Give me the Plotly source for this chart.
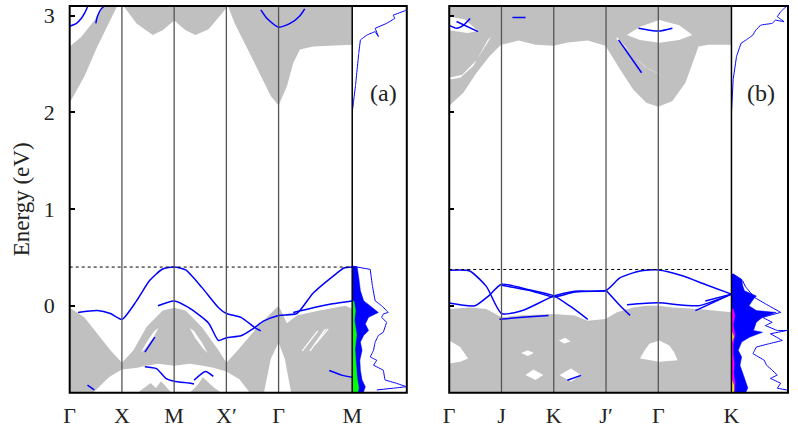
import plotly.graph_objects as go

# ---------------- axis / label data ----------------
E_MIN, E_MAX = -0.9, 3.1
ticks_a = [0, 1, 2, 3, 4, 5.41]
labels_a = ['Γ', 'X', 'M', 'X′', 'Γ', 'M']
ticks_b = [0, 1, 2, 3, 4, 5.40]
labels_b = ['Γ', 'J', 'K', 'J′', 'Γ', 'K']
e_ticks = [0, 1, 2, 3]
fermi_a = 0.40
fermi_b = 0.375

# ---------------- panel (a): projected bulk bands (gray) ----------------
a_cb1_k = [0, 0.28, 0.53, 0.78, 0.91, 0.66, 0.47, 0.22, 0]
a_cb1_E = [2.10, 2.37, 2.68, 2.95, 3.10, 3.10, 2.95, 2.78, 2.68]
a_cb2_k = [1.03, 1.28, 1.59, 1.78, 2.0, 2.22, 2.41, 2.66, 2.91, 3.03]
a_cb2_E = [3.10, 2.92, 2.80, 2.85, 2.95, 2.85, 2.80, 2.86, 3.02, 3.10]
a_cb3_k = [3.03, 3.16, 3.41, 3.66, 3.85, 4.0, 4.16, 4.28, 4.41, 4.66, 5.41, 5.41]
a_cb3_E = [3.10, 2.92, 2.65, 2.37, 2.17, 2.07, 2.27, 2.51, 2.65, 2.68, 2.70, 3.10]

a_vb_k = [0, 0.28, 0.53, 0.78, 1.0, 1.22, 1.47, 1.78, 2.0, 2.22, 2.53, 2.85, 3.0,
          3.22, 3.66, 4.0, 4.16, 4.35, 4.78, 5.28, 5.41, 5.41, 0]
a_vb_E = [-0.02, -0.12, -0.29, -0.46, -0.59, -0.46, -0.22, -0.05, -0.02, -0.05, -0.22,
          -0.46, -0.59, -0.46, -0.18, 0.0, -0.18, -0.10, -0.05, 0.0, -0.03, -0.9, -0.9]

# white gaps inside panel (a) valence region
a_gap1_k = [0.45, 0.75, 1.0, 1.3, 1.45, 1.7, 2.0, 2.3, 2.55, 2.75, 3.0, 3.25, 3.45]
a_gap1_E = [-0.9, -0.74, -0.66, -0.64, -0.62, -0.60, -0.62, -0.60, -0.62, -0.64, -0.68, -0.76, -0.9]
a_gap2_k = [1.36, 1.47, 1.62, 1.70, 1.60, 1.45]
a_gap2_E = [-0.49, -0.38, -0.26, -0.23, -0.33, -0.44]
a_gap3_k = [2.64, 2.53, 2.38, 2.30, 2.40, 2.55]
a_gap3_E = [-0.49, -0.38, -0.26, -0.23, -0.33, -0.44]
a_gap4_k = [3.72, 3.85, 4.0, 4.12, 4.24]
a_gap4_E = [-0.9, -0.55, -0.38, -0.55, -0.9]
# small gray bumps at the bottom of the gaps
a_bump1_k = [1.3, 1.45, 1.55, 1.65, 1.75, 1.85, 1.95]
a_bump1_E = [-0.9, -0.84, -0.80, -0.85, -0.78, -0.84, -0.9]
a_bump2_k = [2.3, 2.45, 2.55, 2.65, 2.75, 2.9]
a_bump2_E = [-0.9, -0.82, -0.74, -0.79, -0.84, -0.9]
# thin white streaks right of Gamma
a_streaks = [([4.45, 4.75], [-0.47, -0.26]), ([4.6, 4.9], [-0.47, -0.24]), ([4.7, 4.95], [-0.40, -0.24])]

# ---------------- panel (a): surface states (blue) ----------------
a_s1_k = [0.16, 0.53, 0.78, 1.0, 1.28, 1.53, 1.78, 2.0, 2.22, 2.53, 2.85, 3.0, 3.28, 3.53, 3.66]
a_s1_E = [-0.07, -0.05, -0.08, -0.14, 0.05, 0.26, 0.38, 0.40, 0.37, 0.19, -0.02, -0.08, -0.12, -0.22, -0.26]
a_s2_k = [1.69, 2.0, 2.28, 2.66, 2.85, 3.0, 3.28, 3.53, 3.71, 4.0, 4.35, 4.66, 5.1, 5.25, 5.41]
a_s2_E = [0.0, 0.05, -0.02, -0.18, -0.36, -0.33, -0.31, -0.23, -0.16, -0.10, -0.08, 0.13, 0.33, 0.39, 0.40]
a_s3_k = [4.28, 4.66, 5.03, 5.41]
a_s3_E = [-0.07, -0.02, 0.02, 0.05]
a_s4_k = [1.44, 1.66, 1.84, 2.0, 2.28, 2.38]
a_s4_E = [-0.63, -0.65, -0.75, -0.78, -0.80, -0.81]
a_s5_k = [2.38, 2.6, 2.75]
a_s5_E = [-0.77, -0.68, -0.73]
a_s6_k = [1.44, 1.63]
a_s6_E = [-0.48, -0.325]
a_s7_k = [4.97, 5.22, 5.41]
a_s7_E = [-0.67, -0.72, -0.74]
a_s8_k = [0.34, 0.47]
a_s8_E = [-0.82, -0.87]
a_c1_k = [0.0, 0.13, 0.22, 0.28, 0.34]
a_c1_E = [2.89, 2.92, 2.97, 3.02, 3.09]
a_c2_k = [0.5, 0.53, 0.59, 0.66]
a_c2_E = [2.92, 2.99, 3.06, 3.10]
a_c3_k = [3.66, 3.78, 4.0, 4.22, 4.41, 4.5]
a_c3_E = [3.06, 2.97, 2.88, 2.92, 3.0, 3.07]

# ---------------- panel (a): DOS ----------------
a_dos_fill_E = [0.41, 0.40, 0.29, 0.154, 0.051, -0.017, -0.069, -0.12, -0.188, -0.256, -0.307,
                -0.376, -0.461, -0.564, -0.666, -0.768, -0.837, -0.888, -0.9]
a_dos_fill_d = [0.0, 0.09, 0.12, 0.15, 0.21, 0.36, 0.48, 0.30, 0.24, 0.30, 0.21,
                0.15, 0.18, 0.14, 0.15, 0.18, 0.24, 0.21, 0.21]
a_dos_green_E = [0.05, -0.05, -0.15, -0.3, -0.45, -0.6, -0.75, -0.85, -0.9]
a_dos_green_d = [0.03, 0.06, 0.04, 0.08, 0.05, 0.07, 0.09, 0.12, 0.10]
a_dos_line_E = [0.41, 0.376, 0.205, 0.051, 0.0, -0.069, -0.085, -0.12, -0.171, -0.274, -0.307,
                -0.376, -0.461, -0.53, -0.564, -0.615, -0.666, -0.768, -0.802, -0.837, -0.853, -0.871]
a_dos_line_d = [0.0, 0.33, 0.37, 0.42, 0.54, 0.66, 0.57, 0.54, 0.63, 0.57, 0.48,
                0.42, 0.39, 0.33, 0.45, 0.39, 0.57, 0.60, 0.81, 0.99, 0.75, 0.45]
a_dos_up_E = [1.0, 2.0, 2.275, 2.613, 2.749, 2.80, 2.835, 2.784, 2.869, 2.92, 2.971, 3.005, 3.056, 3.1]
a_dos_up_d = [0.0, 0.0, 0.06, 0.12, 0.15, 0.27, 0.42, 0.48, 0.42, 0.63, 0.78, 0.75, 0.99, 1.0]

# ---------------- panel (b): projected bulk bands (gray) ----------------
b_cb_k = [0, 0.27, 0.52, 0.77, 0.99, 1.33, 1.65, 2.0, 2.27, 2.65, 2.99, 3.27, 3.52, 3.77,
          4.0, 4.27, 4.52, 4.77, 4.96, 5.40, 5.40, 0]
b_cb_E = [2.067, 2.203, 2.408, 2.579, 2.698, 2.743, 2.698, 2.688, 2.722, 2.743, 2.688, 2.442,
          2.237, 2.10, 2.059, 2.118, 2.305, 2.681, 2.698, 2.698, 3.1, 3.1]
b_cgap1_k = [0, 0.3, 0.55, 0.35, 0]
b_cgap1_E = [2.99, 2.96, 2.84, 2.82, 2.85]
b_cgap2_k = [0, 0.25, 0.52, 0.80, 0.74, 0.46, 0.21, 0]
b_cgap2_E = [2.357, 2.39, 2.54, 2.78, 2.75, 2.48, 2.357, 2.34]
b_cgap3_k = [3.40, 3.65, 4.02, 4.40, 4.65, 4.40, 4.02, 3.65]
b_cgap3_E = [2.80, 2.886, 2.954, 2.90, 2.80, 2.749, 2.72, 2.749]
b_cgap4_k = [3.21, 3.5, 3.8, 4.15, 4.1, 3.75, 3.45, 3.2]
b_cgap4_E = [2.78, 2.6, 2.45, 2.36, 2.38, 2.47, 2.63, 2.76]

b_vb_k = [0, 0.39, 0.71, 1.0, 1.33, 1.65, 2.0, 2.40, 2.65, 2.99, 3.21, 3.52, 3.77, 4.0,
          4.27, 4.77, 5.40, 5.40, 0]
b_vb_E = [-0.034, -0.017, -0.034, -0.12, -0.10, -0.092, -0.085, -0.10, -0.154, -0.136,
          -0.068, -0.017, 0.0, 0.0, -0.017, -0.034, -0.068, -0.9, -0.9]
b_vgap1_k = [0, 0.21, 0.36, 0.21, 0]
b_vgap1_E = [-0.359, -0.427, -0.546, -0.58, -0.597]
b_vgap2_k = [3.65, 3.74, 3.83, 4.02, 4.21, 4.30, 4.37, 4.02]
b_vgap2_E = [-0.546, -0.461, -0.392, -0.359, -0.41, -0.478, -0.564, -0.58]
b_vgap3_k = [1.46, 1.61, 1.80, 1.65]
b_vgap3_E = [-0.717, -0.659, -0.717, -0.768]
b_vgap4_k = [2.11, 2.33, 2.52, 2.33]
b_vgap4_E = [-0.717, -0.649, -0.717, -0.786]
b_vgap5_k = [1.38, 1.5, 1.62, 1.5]
b_vgap5_E = [-0.49, -0.46, -0.49, -0.52]
b_vgap6_k = [2.1, 2.22, 2.32, 2.2]
b_vgap6_E = [-0.36, -0.33, -0.37, -0.39]

# ---------------- panel (b): surface states (blue) ----------------
b_s1_k = [0, 0.39, 0.71, 1.0, 1.4, 2.0, 2.4, 3.0, 3.27, 3.65, 4.0, 4.46, 4.9, 5.40]
b_s1_E = [0.366, 0.359, 0.20, -0.08, -0.05, 0.10, 0.15, 0.16, 0.29, 0.36, 0.37, 0.31, 0.22, 0.12]
b_s2_k = [0, 0.49, 0.75, 1.0, 1.52, 2.0, 2.3, 2.65]
b_s2_E = [0.028, 0.0, 0.10, 0.222, 0.165, 0.102, 0.0, -0.14]
b_s3_k = [1.0, 1.52, 2.0, 2.4, 3.0]
b_s3_E = [0.212, 0.16, 0.092, 0.142, 0.152]
b_s4_k = [0.96, 1.4, 1.9]
b_s4_E = [-0.14, -0.12, -0.10]
b_s8_k = [3.0, 3.27, 3.46]
b_s8_E = [0.16, 0.0, -0.10]
b_s9_k = [3.4, 4.0, 4.77, 5.40]
b_s9_E = [0.01, 0.03, 0.0, 0.12]
b_s10_k = [4.71, 5.40]
b_s10_E = [-0.05, 0.12]
b_s11_k = [4.9, 5.40]
b_s11_E = [0.05, 0.12]
b_s12_k = [2.26, 2.52]
b_s12_E = [-0.77, -0.72]
b_c1_k = [0, 0.14, 0.27, 0.4]
b_c1_E = [2.90, 2.87, 2.90, 2.97]
b_c2_k = [0.14, 0.55]
b_c2_E = [2.94, 2.835]
b_c3_k = [3.62, 4.0, 4.27]
b_c3_E = [2.87, 2.84, 2.87]
b_c4_k = [3.24, 3.68]
b_c4_E = [2.75, 2.41]
b_c5_k = [1.21, 1.46]
b_c5_E = [2.98, 2.98]

# ---------------- panel (b): DOS ----------------
b_dos_fill_E = [0.33, 0.30, 0.274, 0.205, 0.154, 0.10, 0.07, 0.0, -0.05, -0.069, -0.12, -0.17,
                -0.256, -0.274, -0.325, -0.376, -0.461, -0.53, -0.615, -0.697, -0.786, -0.85, -0.888, -0.9]
b_dos_fill_d = [0.03, 0.10, 0.18, 0.20, 0.23, 0.44, 0.39, 0.31, 0.44, 0.79, 0.55, 0.44,
                0.39, 0.55, 0.32, 0.18, 0.12, 0.18, 0.15, 0.20, 0.26, 0.29, 0.26, 0.26]
b_dos_mag_E = [-0.03, -0.1, -0.2, -0.3, -0.4, -0.5, -0.6, -0.7, -0.8, -0.9]
b_dos_mag_d = [0.03, 0.06, 0.03, 0.06, 0.03, 0.03, 0.05, 0.04, 0.06, 0.05]
b_dos_yel_E = [-0.26, -0.32, -0.38, -0.76, -0.82, -0.9]
b_dos_yel_d = [0.0, 0.04, 0.0, 0.0, 0.04, 0.04]
b_dos_line_E = [0.33, 0.29, 0.256, 0.195, 0.085, 0.017, -0.069, -0.12, -0.171, -0.205, -0.256, -0.256,
                -0.29, -0.359, -0.392, -0.427, -0.495, -0.564, -0.615, -0.666, -0.717, -0.751,
                -0.802, -0.853, -0.871]
b_dos_line_d = [0.0, 0.12, 0.20, 0.25, 0.41, 0.61, 0.87, 0.55, 0.72, 0.60, 0.81, 0.98,
                0.69, 0.90, 0.67, 0.44, 0.38, 0.58, 0.62, 0.72, 0.81, 0.69,
                0.87, 0.81, 0.98]
b_dos_up_E = [1.0, 2.0, 2.339, 2.579, 2.715, 2.749, 2.80, 2.851, 2.903, 2.92, 2.954, 2.937,
              2.989, 3.04, 3.074, 3.094]
b_dos_up_d = [0.0, 0.0, 0.03, 0.09, 0.17, 0.26, 0.38, 0.43, 0.52, 0.72, 0.78, 0.93,
              0.81, 0.87, 0.93, 0.97]

# ---------------- figure ----------------
GRAY = '#c0c0c0'
BLUE = '#0000ff'
W, H = 798, 431
fig = go.Figure()


def poly(k, e, color, xa, ya):
    fig.add_trace(go.Scatter(x=k, y=e, mode='lines', fill='toself', fillcolor=color,
                             line=dict(width=0, color=color), xaxis=xa, yaxis=ya,
                             hoverinfo='skip', showlegend=False))


def curve(k, e, xa, ya, color=BLUE, width=1.5, smooth=0.6):
    fig.add_trace(go.Scatter(x=k, y=e, mode='lines',
                             line=dict(color=color, width=width, shape='spline', smoothing=smooth),
                             xaxis=xa, yaxis=ya, hoverinfo='skip', showlegend=False))


def dos_fill(d, e, color, xa, ya):
    fig.add_trace(go.Scatter(x=d, y=e, mode='lines', fill='tozerox', fillcolor=color,
                             line=dict(width=0.5, color=color), xaxis=xa, yaxis=ya,
                             hoverinfo='skip', showlegend=False))


# panel (a)
for k, e in [(a_cb1_k, a_cb1_E), (a_cb2_k, a_cb2_E), (a_cb3_k, a_cb3_E), (a_vb_k, a_vb_E)]:
    poly(k, e, GRAY, 'x', 'y')
for k, e in [(a_gap1_k, a_gap1_E), (a_gap2_k, a_gap2_E), (a_gap3_k, a_gap3_E), (a_gap4_k, a_gap4_E)]:
    poly(k, e, 'white', 'x', 'y')
for k, e in [(a_bump1_k, a_bump1_E), (a_bump2_k, a_bump2_E)]:
    poly(k, e, GRAY, 'x', 'y')
for k, e in a_streaks:
    fig.add_trace(go.Scatter(x=k, y=e, mode='lines', line=dict(color='white', width=1.2),
                             xaxis='x', yaxis='y', hoverinfo='skip', showlegend=False))
for k, e in [(a_s1_k, a_s1_E), (a_s2_k, a_s2_E), (a_s3_k, a_s3_E), (a_s4_k, a_s4_E),
             (a_s5_k, a_s5_E), (a_s6_k, a_s6_E), (a_s7_k, a_s7_E), (a_s8_k, a_s8_E),
             (a_c1_k, a_c1_E), (a_c2_k, a_c2_E), (a_c3_k, a_c3_E)]:
    curve(k, e, 'x', 'y')
fig.add_trace(go.Scatter(x=[ticks_a[0], ticks_a[-1]], y=[fermi_a, fermi_a], mode='lines',
                         line=dict(color='black', width=1, dash='dot'), xaxis='x', yaxis='y',
                         hoverinfo='skip', showlegend=False))
dos_fill(a_dos_fill_d, a_dos_fill_E, BLUE, 'x2', 'y')
dos_fill(a_dos_green_d, a_dos_green_E, '#00ff00', 'x2', 'y')
curve(a_dos_line_d, a_dos_line_E, 'x2', 'y', width=1, smooth=0)
curve(a_dos_up_d, a_dos_up_E, 'x2', 'y', width=1, smooth=0)

# panel (b)
poly(b_cb_k, b_cb_E, GRAY, 'x3', 'y2')
poly(b_vb_k, b_vb_E, GRAY, 'x3', 'y2')
for k, e in [(b_cgap1_k, b_cgap1_E), (b_cgap2_k, b_cgap2_E), (b_cgap3_k, b_cgap3_E),
             (b_cgap4_k, b_cgap4_E), (b_vgap1_k, b_vgap1_E), (b_vgap2_k, b_vgap2_E),
             (b_vgap3_k, b_vgap3_E), (b_vgap4_k, b_vgap4_E), (b_vgap5_k, b_vgap5_E),
             (b_vgap6_k, b_vgap6_E)]:
    poly(k, e, 'white', 'x3', 'y2')
for k, e in [(b_s1_k, b_s1_E), (b_s2_k, b_s2_E), (b_s3_k, b_s3_E), (b_s4_k, b_s4_E),
             (b_s8_k, b_s8_E), (b_s9_k, b_s9_E), (b_s10_k, b_s10_E), (b_s11_k, b_s11_E),
             (b_s12_k, b_s12_E), (b_c1_k, b_c1_E), (b_c2_k, b_c2_E), (b_c3_k, b_c3_E),
             (b_c4_k, b_c4_E), (b_c5_k, b_c5_E)]:
    curve(k, e, 'x3', 'y2')
fig.add_trace(go.Scatter(x=[ticks_b[0], ticks_b[-1]], y=[fermi_b, fermi_b], mode='lines',
                         line=dict(color='black', width=1, dash='dot'), xaxis='x3', yaxis='y2',
                         hoverinfo='skip', showlegend=False))
dos_fill(b_dos_fill_d, b_dos_fill_E, BLUE, 'x4', 'y2')
dos_fill(b_dos_mag_d, b_dos_mag_E, '#ff00ff', 'x4', 'y2')
dos_fill(b_dos_yel_d, b_dos_yel_E, '#ffff00', 'x4', 'y2')
curve(b_dos_line_d, b_dos_line_E, 'x4', 'y2', width=1, smooth=0)
curve(b_dos_up_d, b_dos_up_E, 'x4', 'y2', width=1, smooth=0)

# ---------------- layout ----------------
y_dom = [1 - 392.5 / H, 1 - 3 / H]
FONT = 'Liberation Serif'
tickfont = dict(family=FONT, size=22, color='#222')
common_x = dict(showgrid=False, zeroline=False, showline=False, ticks='', fixedrange=True)
fig.update_layout(
    width=W, height=H, margin=dict(l=0, r=0, t=0, b=0),
    paper_bgcolor='white', plot_bgcolor='white', showlegend=False,
    xaxis=dict(domain=[65 / W, 353.3 / W], range=[ticks_a[0], ticks_a[-1]], tickvals=ticks_a,
               ticktext=labels_a, tickfont=tickfont, anchor='y', ticklabelstandoff=7, **common_x),
    xaxis2=dict(domain=[353.3 / W, 409 / W], range=[0, 1], showticklabels=False, anchor='y', **common_x),
    xaxis3=dict(domain=[452.3 / W, 740.3 / W], range=[ticks_b[0], ticks_b[-1]], tickvals=ticks_b,
                ticktext=labels_b, tickfont=tickfont, anchor='y2', ticklabelstandoff=7, **common_x),
    xaxis4=dict(domain=[740.3 / W, 1.0], range=[0, 1], showticklabels=False, anchor='y2', **common_x),
    yaxis=dict(domain=y_dom, range=[E_MIN, E_MAX], tickvals=e_ticks, ticks='inside', ticklen=5,
               tickwidth=1.5, tickcolor='black', tickfont=tickfont, showgrid=False, zeroline=False,
               anchor='x', ticklabelstandoff=14, fixedrange=True),
    yaxis2=dict(domain=y_dom, range=[E_MIN, E_MAX], tickvals=e_ticks, ticks='inside', ticklen=5,
                tickwidth=1.5, tickcolor='black', showticklabels=False, showgrid=False,
                zeroline=False, anchor='x3', fixedrange=True),
)

shapes = []
for t in ticks_a[1:-1]:
    shapes.append(dict(type='line', xref='x', yref='y domain', x0=t, x1=t, y0=0, y1=1,
                       line=dict(color='#555555', width=1.3), layer='above'))
for t in ticks_b[1:-1]:
    shapes.append(dict(type='line', xref='x3', yref='y2 domain', x0=t, x1=t, y0=0, y1=1,
                       line=dict(color='#555555', width=1.3), layer='above'))
shapes.append(dict(type='line', xref='paper', yref='paper', x0=353.3 / W, x1=353.3 / W,
                   y0=y_dom[0], y1=y_dom[1], line=dict(color='black', width=1.5)))
shapes.append(dict(type='line', xref='paper', yref='paper', x0=740.3 / W, x1=740.3 / W,
                   y0=y_dom[0], y1=y_dom[1], line=dict(color='black', width=1.5)))
shapes.append(dict(type='rect', xref='paper', yref='paper', x0=65 / W, x1=409 / W,
                   y0=y_dom[0], y1=y_dom[1], line=dict(color='black', width=2)))
shapes.append(dict(type='rect', xref='paper', yref='paper', x0=452.3 / W, x1=1.0,
                   y0=y_dom[0], y1=y_dom[1], line=dict(color='black', width=2)))
fig.update_layout(shapes=shapes)

fig.add_annotation(text='Energy (eV)', textangle=-90, xref='paper', yref='paper',
                   x=16 / W, y=1 - 198 / H, xanchor='center', yanchor='middle', showarrow=False,
                   font=dict(family=FONT, size=23, color='#222'))
fig.add_annotation(text='(a)', xref='x2', yref='y', x=0.57, y=2.2, xanchor='center',
                   yanchor='middle', showarrow=False, font=dict(family=FONT, size=24, color='#222'))
fig.add_annotation(text='(b)', xref='x4', yref='y2', x=0.52, y=2.2, xanchor='center',
                   yanchor='middle', showarrow=False, font=dict(family=FONT, size=24, color='#222'))

fig.write_html('out.html')
